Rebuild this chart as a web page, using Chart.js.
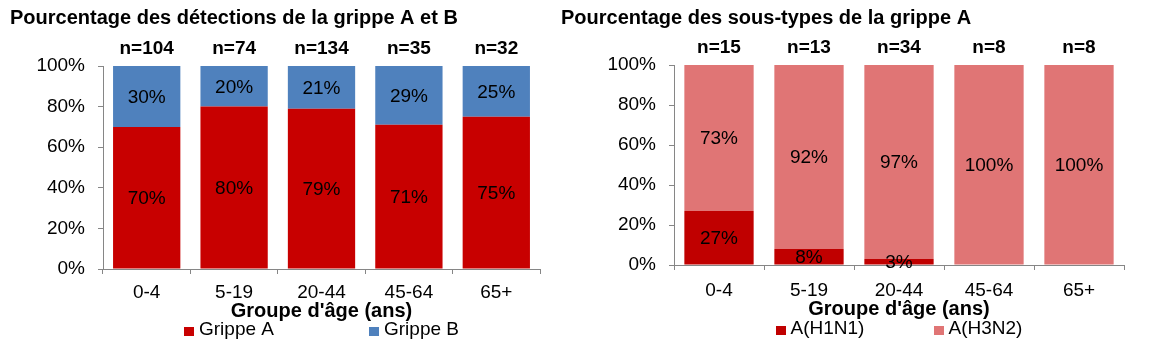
<!DOCTYPE html>
<html><head><meta charset="utf-8">
<script src="https://cdn.jsdelivr.net/npm/chart.js@4"></script>
<style>
html,body{margin:0;padding:0;background:#fff;width:1165px;height:345px;overflow:hidden}
canvas{position:absolute;top:0}
</style></head><body>
<canvas id="c1" width="555" height="345" style="left:0"></canvas>
<canvas id="c2" width="610" height="345" style="left:555px"></canvas>
<script>
// ---- data ----
const ageGroups = ['0-4', '5-19', '20-44', '45-64', '65+'];
const countsAB = ['n=104', 'n=74', 'n=134', 'n=35', 'n=32'];
const grippeA = [70, 80, 79, 71, 75];
const grippeB = [30, 20, 21, 29, 25];
const countsSub = ['n=15', 'n=13', 'n=34', 'n=8', 'n=8'];
const h1n1 = [27, 8, 3, 0, 0];
const h3n2 = [73, 92, 97, 100, 100];
const yTickValues = [0, 20, 40, 60, 80, 100];
const titleAB = 'Pourcentage des détections de la grippe A et B';
const titleSub = 'Pourcentage des sous-types de la grippe A';
const xTitle = "Groupe d'âge (ans)";

// ---- styling ----
const FAM = '"Liberation Sans", Arial, Helvetica, sans-serif';
const AXIS = '#868686';

const valueLabels = {
  id: 'valueLabels',
  afterDatasetsDraw(chart) {
    const ctx = chart.ctx;
    ctx.save();
    ctx.font = '19px ' + FAM;
    ctx.fillStyle = '#000';
    ctx.textAlign = 'center';
    ctx.textBaseline = 'middle';
    chart.data.datasets.forEach((ds, di) => {
      const meta = chart.getDatasetMeta(di);
      meta.data.forEach((bar, i) => {
        const v = ds.data[i];
        if (!v) return;
        const p = bar.getProps(['x', 'y', 'base'], true);
        ctx.fillText(v + '%', p.x, (p.y + p.base) / 2 + 1);
      });
    });
    ctx.restore();
  }
};

const customLegend = {
  id: 'customLegend',
  afterDraw(chart, args, opts) {
    const ctx = chart.ctx, a = chart.chartArea;
    ctx.save();
    ctx.font = opts.font;
    ctx.textBaseline = 'middle';
    ctx.textAlign = 'left';
    const items = chart.data.datasets;
    const lastW = opts.box + opts.gap + ctx.measureText(items[items.length - 1].label).width;
    const total = opts.spacing * (items.length - 1) + lastW;
    let x = (a.left + a.right) / 2 - total / 2;
    items.forEach(ds => {
      ctx.fillStyle = ds.backgroundColor;
      ctx.fillRect(Math.round(x), Math.round(opts.y - 3), opts.box, opts.box - 1);
      ctx.fillStyle = '#000';
      ctx.fillText(ds.label, x + opts.box + opts.gap, opts.y);
      x += opts.spacing;
    });
    ctx.restore();
  }
};

function makeChart(id, c) {
  return new Chart(document.getElementById(id), {
    type: 'bar',
    data: {
      labels: ageGroups,
      datasets: c.datasets.map(d => ({
        label: d.label, data: d.data, backgroundColor: d.color,
        xAxisID: 'x', yAxisID: 'y', borderWidth: 0,
        categoryPercentage: 1, barPercentage: 0.77
      }))
    },
    plugins: [valueLabels, customLegend],
    options: {
      responsive: false,
      devicePixelRatio: 1,
      animation: false,
      layout: { padding: { left: c.padLeft, right: c.padRight, top: 0, bottom: 0 } },
      plugins: {
        legend: { display: false },
        tooltip: { enabled: false },
        title: {
          display: true, text: c.title, align: 'start', color: '#000',
          font: { family: FAM, size: 20, weight: 'bold' },
          padding: { top: 6, bottom: 3 }
        },
        customLegend: {
          font: '19px ' + FAM, box: 10, gap: 5, spacing: c.legendSpacing, y: c.legendY
        }
      },
      scales: {
        x: {
          stacked: true, position: 'bottom', offset: true,
          grid: { display: true, drawOnChartArea: false, drawTicks: true, tickLength: 5, color: AXIS, offset: true },
          border: { display: true, color: AXIS },
          ticks: { color: '#000', font: { family: FAM, size: 19 }, padding: c.xTickPad, maxRotation: 0, autoSkip: false },
          title: {
            display: true, text: xTitle, color: '#000',
            font: { family: FAM, size: 20, weight: 'bold' },
            padding: { top: 0, bottom: c.xTitlePad }
          },
          afterFit(s) { s.height = c.xHeight; }
        },
        xTop: {
          type: 'category', position: 'top', labels: c.counts, offset: true,
          grid: { display: false, drawTicks: false },
          border: { display: false },
          ticks: { color: '#000', font: { family: FAM, size: 19, weight: 'bold' }, padding: 6, maxRotation: 0, autoSkip: false },
          afterFit(s) { s.height = c.topHeight; }
        },
        y: {
          stacked: true, min: 0, max: 100,
          grid: { display: true, drawOnChartArea: false, drawTicks: true, tickLength: 5, color: AXIS },
          border: { display: true, color: AXIS },
          ticks: { color: '#000', font: { family: FAM, size: 19 }, padding: 13, callback: v => v + '%' },
          afterBuildTicks(s) { s.ticks = yTickValues.map(v => ({ value: v })); },
          afterFit(s) { s.width = c.yWidth; }
        }
      }
    }
  });
}

makeChart('c1', {
  title: titleAB, counts: countsAB,
  datasets: [
    { label: 'Grippe A', data: grippeA, color: '#C80000' },
    { label: 'Grippe B', data: grippeB, color: '#4F81BD' }
  ],
  padLeft: 10, padRight: 15, yWidth: 93, topHeight: 33, xHeight: 76,
  xTickPad: 7, xTitlePad: 22, legendSpacing: 185, legendY: 330
});

makeChart('c2', {
  title: titleSub, counts: countsSub,
  datasets: [
    { label: 'A(H1N1)', data: h1n1, color: '#C00000' },
    { label: 'A(H3N2)', data: h3n2, color: '#E07575' }
  ],
  padLeft: 6, padRight: 41, yWidth: 113, topHeight: 32, xHeight: 80,
  xTickPad: 9, xTitlePad: 24, legendSpacing: 158, legendY: 329
});
</script>
</body></html>
